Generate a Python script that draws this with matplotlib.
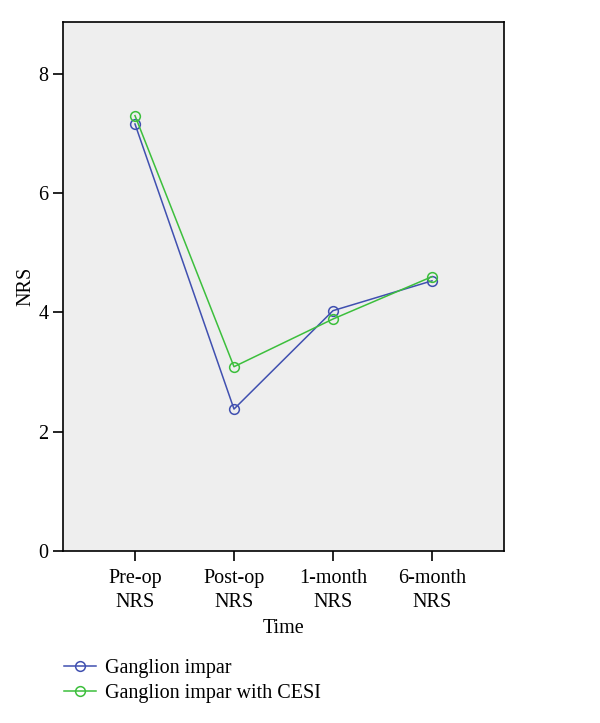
import matplotlib
matplotlib.use("Agg")
import matplotlib.pyplot as plt
import numpy as np

# data
time_labels = ["Pre-op\nNRS", "Post-op\nNRS", "1-month\nNRS", "6-month\nNRS"]
ganglion_impar = [7.16, 2.38, 4.03, 4.53]
ganglion_impar_cesi = [7.30, 3.09, 3.89, 4.60]
y_ticks = [0, 2, 4, 6, 8]

plt.rcParams["font.family"] = ["Liberation Serif", "DejaVu Serif"]

fig = plt.figure(figsize=(6, 7.23), dpi=100)
ax = fig.add_axes([63 / 600, 1 - 551 / 723, 441 / 600, 529 / 723])
ax.set_facecolor("#eeeeee")

x = np.arange(len(time_labels))
ax.plot(x, ganglion_impar, color="#4050b0", lw=1.1, marker="o", ms=7,
        mfc="none", mec="#4050b0", mew=1.1, label="Ganglion impar")
ax.plot(x, ganglion_impar_cesi, color="#3cbf3c", lw=1.1, marker="o", ms=7,
        mfc="none", mec="#3cbf3c", mew=1.1, label="Ganglion impar with CESI")

ax.set_xlim(-0.727, 3.727)
ax.set_ylim(0, 8.87)
ax.set_xticks(x)
ax.set_xticklabels(time_labels, fontsize=14.5, linespacing=1.35)
ax.set_yticks(y_ticks)
ax.set_yticklabels([str(t) for t in y_ticks], fontsize=14.5)
ax.tick_params(length=7, width=1.2, color="black")
ax.tick_params(axis="x", pad=6)
for s in ax.spines.values():
    s.set_linewidth(1.2)

ax.set_xlabel("Time", fontsize=14.5, labelpad=5)
ax.set_ylabel("NRS", fontsize=14.5, labelpad=2)

fig.legend(loc="upper left", bbox_to_anchor=(56 / 600, 1 - 651 / 723),
           frameon=False, fontsize=14.5, handlelength=1.6, handletextpad=0.45,
           labelspacing=0.3, borderaxespad=0)

fig.savefig("out.png", dpi=100)
